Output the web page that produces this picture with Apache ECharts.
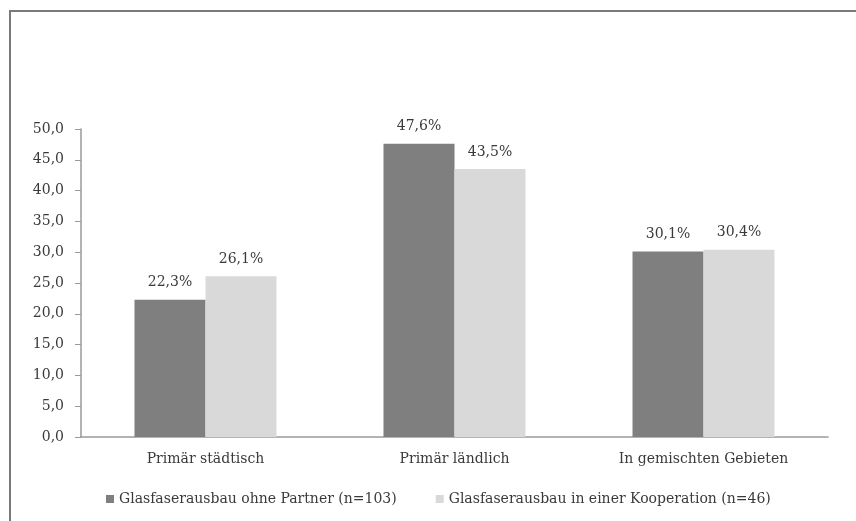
<!DOCTYPE html>
<html lang="de">
  <head>
    <meta charset="UTF-8" />
    <title>Glasfaserausbau</title>
    <script src="https://cdn.jsdelivr.net/npm/echarts@6.0.0/dist/echarts.min.js"></script>
    <style>
      html, body { margin: 0; padding: 0; background: #fff; }
      #main { width: 856px; height: 521px; }
    </style>
  </head>
  <body>
    <div id="main"></div>

    <script>
      // Kategorien und Werte (Prozent)
      var categories = ["Primär städtisch", "Primär ländlich", "In gemischten Gebieten"]
      var seriesNames = [
        "Glasfaserausbau ohne Partner (n=103)",
        "Glasfaserausbau in einer Kooperation (n=46)",
      ]
      var ohnePartner = [22.3, 47.6, 30.1]
      var kooperation = [26.1, 43.5, 30.4]

      var font = "'DejaVu Serif', 'Liberation Serif', serif"
      var textColor = "#3a3a3a"

      var chart = echarts.init(document.getElementById("main"), null, { renderer: "canvas" })

      function barLabel() {
        return {
          show: true,
          position: "top",
          distance: 10,
          color: textColor,
          fontFamily: font,
          fontSize: 14,
          formatter: function (p) {
            return p.value.toFixed(1).replace(".", ",") + "%"
          },
        }
      }

      var option = {
        backgroundColor: "#fff",
        animation: false,
        // Rahmen oben und links (rechts/unten außerhalb des Bildes)
        graphic: [
          {
            type: "rect",
            shape: { x: 10, y: 11, width: 900, height: 600 },
            style: { fill: "none", stroke: "#7a7a7a", lineWidth: 2 },
            silent: true,
          },
        ],
        grid: { left: 81, right: 28, top: 129, bottom: 84 },
        legend: {
          top: 487,
          left: 101,
          itemWidth: 8,
          itemHeight: 8,
          itemGap: 39,
          icon: "rect",
          textStyle: { color: textColor, fontFamily: font, fontSize: 14 },
          data: seriesNames,
        },
        xAxis: {
          type: "category",
          data: categories,
          axisLine: { lineStyle: { color: "#9a9a9a", width: 1.5 } },
          axisTick: { length: 5, lineStyle: { color: "#9a9a9a" } },
          axisLabel: { color: textColor, fontFamily: font, fontSize: 14, margin: 15 },
        },
        yAxis: {
          type: "value",
          min: 0,
          max: 50,
          interval: 5,
          axisLine: { show: true, lineStyle: { color: "#9a9a9a", width: 1.5 } },
          axisTick: { show: true, length: 6, lineStyle: { color: "#9a9a9a" } },
          splitLine: { show: false },
          axisLabel: {
            color: textColor,
            fontFamily: font,
            fontSize: 14,
            margin: 17,
            formatter: function (v) {
              return v.toFixed(1).replace(".", ",")
            },
          },
        },
        series: [
          {
            name: seriesNames[0],
            type: "bar",
            data: ohnePartner,
            barWidth: 71,
            barGap: "0%",
            itemStyle: { color: "#7f7f7f" },
            label: barLabel(),
          },
          {
            name: seriesNames[1],
            type: "bar",
            data: kooperation,
            barWidth: 71,
            itemStyle: { color: "#d9d9d9" },
            label: barLabel(),
          },
        ],
      }
      chart.setOption(option)
    </script>
  </body>
</html>
